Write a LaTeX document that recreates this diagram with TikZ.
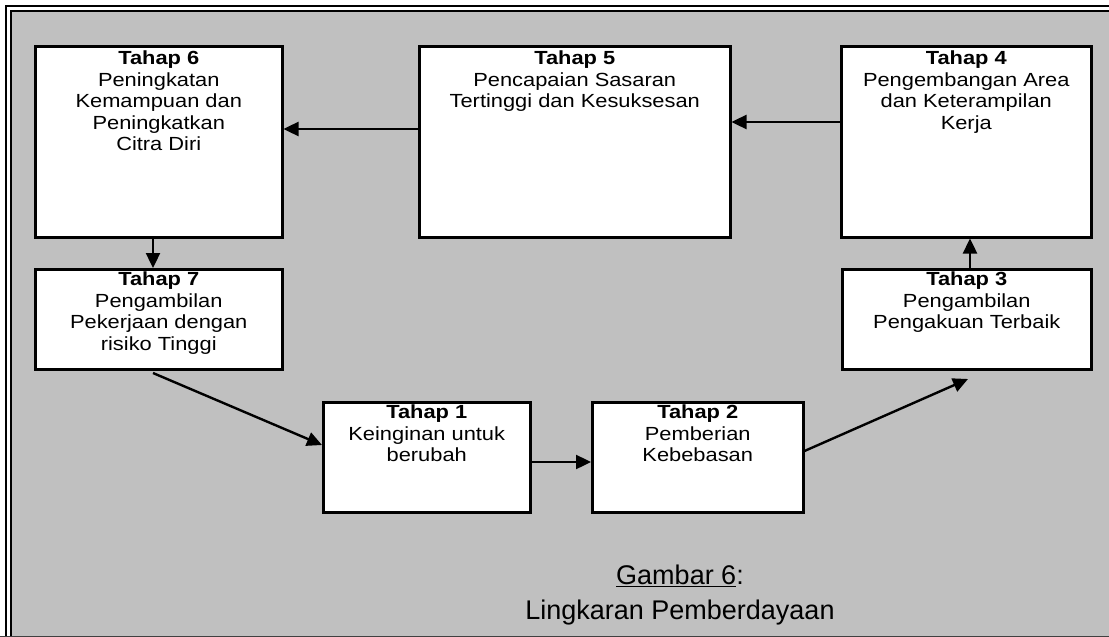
\documentclass[tikz,border=0pt]{standalone}
\usepackage{fontspec}
\setmainfont{Liberation Sans}[FakeStretch=1.15]
\newfontfamily\capfont{Liberation Sans}
\usetikzlibrary{arrows.meta,calc}
\definecolor{bg}{HTML}{C0C0C0}
\definecolor{edge}{HTML}{404040}
\begin{document}
\begin{tikzpicture}[x=1pt,y=-1pt,
  box/.style={draw=black,line width=2.5pt,fill=white,anchor=north west,inner sep=0pt},
  txt/.style={anchor=north,align=center,inner sep=2pt,font=\fontsize{19}{21.5}\selectfont},
  captxt/.style={inner sep=1pt,font=\capfont\fontsize{27}{30}\selectfont},
  arr/.style={line width=2.4pt,-{Triangle[length=15pt,width=14pt]}}]
\useasboundingbox (0,0) rectangle (1109,637);
\clip (0,0) rectangle (1109,637);
% frame
\fill[white] (0,0) rectangle (1109,637);
\fill[bg] (11,11) rectangle (1200,700);
\draw[black,line width=2.5pt] (6,6) rectangle (1200,700);
\draw[black,line width=1.5pt] (11,11) rectangle (1200,700);
\draw[edge,line width=2pt] (0,636.5) -- (1109,636.5);
% boxes
\node[box,minimum width=247pt,minimum height=191pt] (b6) at (34,45) {};
\node[box,minimum width=311pt,minimum height=191pt] (b5) at (418,45) {};
\node[box,minimum width=250pt,minimum height=191pt] (b4) at (840,45) {};
\node[box,minimum width=247pt,minimum height=100pt] (b7) at (34,268) {};
\node[box,minimum width=249pt,minimum height=100pt] (b3) at (841,268) {};
\node[box,minimum width=207pt,minimum height=110pt] (b1) at (322,401) {};
\node[box,minimum width=211pt,minimum height=110pt] (b2) at (591,401) {};
% texts
\node[txt] (t6) at ($(b6.north)+(0,4)$) {\textbf{Tahap 6}\\Peningkatan\\Kemampuan dan\\Peningkatkan\\Citra Diri};
\node[txt] (t5) at ($(b5.north)+(0,4)$) {\textbf{Tahap 5}\\Pencapaian Sasaran\\Tertinggi dan Kesuksesan};
\node[txt] (t4) at ($(b4.north)+(0,4)$) {\textbf{Tahap 4}\\Pengembangan Area\\dan Keterampilan\\Kerja};
\node[txt] (t7) at ($(b7.north)+(0,2)$) {\textbf{Tahap 7}\\Pengambilan\\Pekerjaan dengan\\risiko Tinggi};
\node[txt] (t3) at ($(b3.north)+(0,2)$) {\textbf{Tahap 3}\\Pengambilan\\Pengakuan Terbaik};
\node[txt] (t1) at ($(b1.north)+(0,2)$) {\textbf{Tahap 1}\\Keinginan untuk\\berubah};
\node[txt] (t2) at ($(b2.north)+(0,2)$) {\textbf{Tahap 2}\\Pemberian\\Kebebasan};
% connectors
\coordinate (c7) at (153,373);
\coordinate (c3) at (968,379);
\draw[arr] (b5.west |- 0,129) -- (b6.east |- 0,129);
\draw[arr] (b4.west |- 0,122) -- (b5.east |- 0,122);
\draw[arr] (b6.south -| 153,0) -- (b7.north -| 153,0);
\draw[arr] (b3.north -| 970,0) -- (b4.south -| 970,0);
\draw[arr] (c7) -- (b1.west |- 0,445);
\draw[arr] (b1.east |- 0,462) -- (b2.west |- 0,462);
\draw[arr] (b2.east |- 0,451) -- (c3);
% caption
\node[captxt] (g) at (680,576) {\underline{Gambar 6}:};
\node[captxt] (l) at (680,613) {Lingkaran Pemberdayaan};
\end{tikzpicture}
\end{document}
